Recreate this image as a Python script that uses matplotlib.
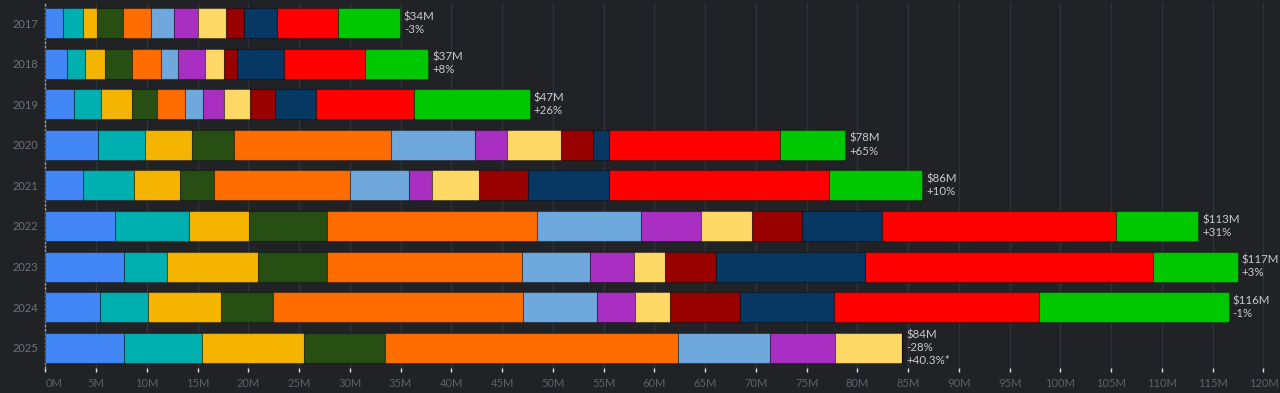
import matplotlib.pyplot as plt
import numpy as np

years = ["2017", "2018", "2019", "2020", "2021", "2022", "2023", "2024", "2025"]

# segment values in $M, one list per colour group, in stacking order
blue = [1.79, 2.15, 2.81, 5.19, 3.69, 6.88, 7.77, 5.39, 7.77]
teal = [1.90, 1.77, 2.66, 4.62, 5.02, 7.28, 4.18, 4.73, 7.66]
amber = [1.38, 1.94, 3.08, 4.62, 4.54, 5.91, 9.01, 7.15, 10.06]
dark_green = [2.57, 2.66, 2.50, 4.19, 3.34, 7.68, 6.83, 5.19, 7.95]
orange = [2.78, 2.86, 2.69, 15.46, 13.39, 20.64, 19.15, 24.58, 28.84]
light_blue = [2.24, 1.70, 1.81, 8.25, 5.83, 10.30, 6.69, 7.31, 9.12]
purple = [2.36, 2.63, 2.07, 3.13, 2.29, 5.93, 4.34, 3.72, 6.43]
light_yellow = [2.76, 1.85, 2.53, 5.31, 4.63, 4.97, 3.03, 3.43, 6.60]
dark_red = [1.78, 1.28, 2.49, 3.18, 4.86, 4.99, 5.08, 6.93, 0]
navy = [3.28, 4.66, 3.98, 1.58, 7.93, 7.83, 14.66, 9.27, 0]
red = [5.98, 7.98, 9.71, 16.84, 21.67, 23.06, 28.37, 20.20, 0]
green = [6.11, 6.23, 11.40, 6.41, 9.19, 8.12, 8.37, 18.67, 0]

total_labels = ["$34M", "$37M", "$47M", "$78M", "$86M", "$113M", "$117M", "$116M", "$84M"]
change_labels = ["-3%", "+8%", "+26%", "+65%", "+10%", "+31%", "+3%", "-1%", "-28%"]
extra_labels = ["", "", "", "", "", "", "", "", "+40.3%*"]

series = [blue, teal, amber, dark_green, orange, light_blue, purple,
          light_yellow, dark_red, navy, red, green]
colors = ["#4287f5", "#00afaf", "#f4b400", "#274e13", "#ff6d00", "#6fa8dc",
          "#a92fc2", "#ffd966", "#990000", "#073763", "#ff0000", "#00c800"]

bg = "#202226"
plt.rcParams['font.family'] = ['Lato', 'DejaVu Sans']

fig = plt.figure(figsize=(12.8, 3.93), dpi=100, facecolor=bg)
ax = fig.add_axes([0.0354, 0.0636, 0.9596, 0.9295], facecolor=bg)

y = np.arange(len(years))
left = np.zeros(len(years))
for vals, c in zip(series, colors):
    vals = np.array(vals)
    ax.barh(y, vals, left=left, height=0.74, color=c,
            edgecolor=(0, 0, 0, 0.35), linewidth=0.8, zorder=3)
    left += vals

for i in range(len(years)):
    lines = [total_labels[i], change_labels[i]]
    if extra_labels[i]:
        lines.append(extra_labels[i])
    ax.text(left[i] + 0.4, y[i], "\n".join(lines), va='center', ha='left',
            color='#c9cacc', fontsize=8.3, linespacing=1.2, zorder=4)

ax.set_xlim(0, 121)
ax.set_ylim(len(years) - 0.5, -0.5)
ax.set_yticks(y)
ax.set_yticklabels(years)
xt = np.arange(0, 121, 5)
ax.set_xticks(xt)
ax.set_xticklabels([f"{v}M" for v in xt])
ax.get_xticklabels()[0].set_horizontalalignment('left')

ax.grid(axis='x', color='#2f3238', linewidth=1, zorder=0)
ax.set_axisbelow(True)
for s in ['top', 'right', 'bottom']:
    ax.spines[s].set_visible(False)
ax.spines['left'].set_color('#9a9ca0')
ax.spines['left'].set_linestyle((0, (1, 2)))
ax.spines['left'].set_linewidth(1)

ax.tick_params(axis='x', colors='#e0e0e0', length=3, width=1, labelsize=8,
               labelcolor='#5d6066', pad=4)
ax.tick_params(axis='y', length=0, labelsize=8, labelcolor='#6e7177', pad=5)

fig.savefig("out.png", dpi=100, facecolor=bg)
